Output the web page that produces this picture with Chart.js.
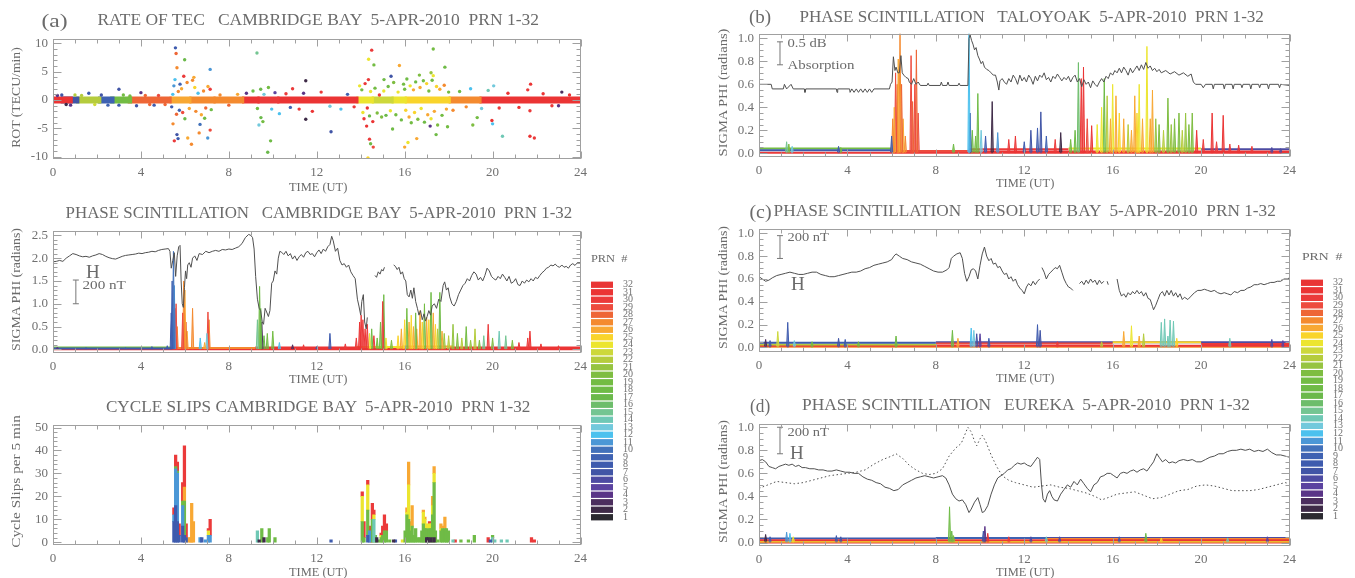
<!DOCTYPE html>
<html>
<head>
<meta charset="utf-8">
<script src="https://cdn.jsdelivr.net/npm/chart.js@4.4.0/dist/chart.umd.min.js"></script>
<style>
  body { margin: 0; background: #fff; width: 1355px; height: 578px; position: relative; overflow: hidden;
         font-family: "Liberation Serif", "DejaVu Serif", serif; color: #6b6b6b; }
  canvas { position: absolute; }
  .lbl { position: absolute; white-space: pre; line-height: 1; transform-origin: 50% 50%; }
</style>
</head>
<body>
<script>
// ---- colour table for PRN 1..32 ----
const prnLabels = ['1','2','3','4','5','6','7','8','9','10','11','12','13','14','15','16',
                   '17','18','19','20','21','22','23','24','25','26','27','28','29','30','31','32'];
const prnColors = ['#2b2a30','#3e2a47','#4c2e5e','#5a3487','#5b43a0','#4d4ba2','#4155a6','#3e5bae',
                   '#3f62b2','#4271ba','#4b97d6','#4cc1ee','#72c9dc','#6fc8b5','#74c592','#6dbd6b',
                   '#6bb94b','#6fbb46','#73bc43','#7ebd41','#96c441','#b5cc3d','#cdd83b','#ece52f',
                   '#f9d42b','#f8a833','#f48a2f','#ee6636','#ed4b3e','#eb3a3a','#eb3434','#e93535'];

// ---- axis ticks ----
const timeTicks = [0, 4, 8, 12, 16, 20, 24];
const rotTicks = [-10, -5, 0, 5, 10];
const sigmaTicksCB = [0, 0.5, 1.0, 1.5, 2.0, 2.5];
const slipTicks = [0, 10, 20, 30, 40, 50];
const sigmaTicks = [0, 0.2, 0.4, 0.6, 0.8, 1.0];

// ---- (a) rate of TEC, Cambridge Bay: [UT, ROT, PRN] ----
const rotPoints = [
  [0.2,0.8,4],[0.4,0.9,7],[0.6,-0.8,2],[0.8,-0.9,4],[1.0,0.9,22],[1.3,0.8,22],[1.63,1.2,8],[1.9,-0.8,23],
  [2.2,0.9,7],[2.5,-0.9,9],[3.0,1.9,7],[3.0,-0.9,8],[3.2,0.9,19],[3.5,0.7,19],[3.8,-1.0,7],
  [4.0,1.3,4],[4.2,0.8,28],[4.4,-0.8,28],[4.6,-0.9,8],[4.8,0.8,29],[5.1,-0.8,28],
  [5.4,-1.2,8],[5.45,1.0,12],[5.46,-4.2,27],[5.5,2.5,11],[5.52,-7.2,30],[5.55,3.6,12],[5.57,9.2,8],
  [5.6,8.2,28],[5.62,-2.5,28],[5.64,5.7,27],[5.64,-6.1,7],[5.69,-6.8,8],[5.7,1.5,27],[5.75,-1.8,9],
  [5.78,2.8,9],[5.85,2.0,26],[5.9,-2.2,29],[5.95,4.2,30],[5.99,7.1,17],[6.0,-3.3,17],[6.1,3.1,27],
  [6.13,-6.7,26],[6.2,-1.5,26],[6.3,-7.8,27],[6.35,3.5,27],[6.41,4.0,26],[6.45,2.2,25],[6.5,-2.0,27],
  [6.6,1.2,12],[6.65,-5.8,27],[6.69,-4.3,10],[6.75,-2.6,26],[6.85,1.6,27],[6.9,-3.2,19],[6.95,-1.4,28],
  [7.04,-6.7,11],[7.05,2.4,26],[7.15,5.4,11],[7.15,1.9,30],[7.15,-5.3,29],[7.2,-1.7,18],
  [7.6,0.9,27],[8.0,-0.9,28],[8.4,1.0,26],
  [8.8,1.2,4],[9.1,1.6,18],[9.28,8.3,15],[9.3,-1.5,19],[9.37,-4.4,13],[9.45,1.9,17],[9.46,-3.1,17],
  [9.55,-3.8,19],[9.6,1.0,13],[9.77,-9.2,17],[9.8,2.2,19],[9.9,-7.2,18],[9.95,-1.6,12],[10.1,1.3,5],
  [10.3,-2.4,12],[10.6,1.1,30],[10.8,-1.3,9],[10.9,2.0,30],[11.2,-1.6,30],[11.4,1.2,4],[11.5,3.4,2],
  [11.5,-3.4,2],[11.8,-2.0,31],[12.2,1.4,30],[12.6,-1.1,13],[12.65,-5.6,7],[13.1,-1.6,12],[13.4,1.0,9],
  [13.7,-1.2,30],[13.95,2.5,24],[14.05,1.8,19],[14.1,-2.2,24],[14.15,-3.3,30],[14.2,2.9,30],
  [14.27,-4.6,31],[14.3,-1.4,31],[14.33,-10.2,25],[14.35,3.6,30],[14.36,7.2,24],[14.4,-2.8,17],
  [14.4,-6.9,30],[14.45,1.5,24],[14.45,-7.7,18],[14.5,8.8,30],[14.55,-3.8,31],[14.57,-8.3,29],
  [14.6,6.2,19],[14.65,2.1,19],[14.75,-2.3,20],[14.85,0.9,30],[14.95,-3.0,20],[15.05,1.6,24],
  [15.06,3.6,18],[15.15,-2.7,17],[15.25,2.4,18],[15.35,-1.9,24],[15.38,4.2,7],[15.45,-5.1,18],
  [15.5,3.1,20],[15.6,-2.6,19],[15.7,1.4,24],[15.76,6.1,26],[15.85,-3.5,18],[15.95,2.8,19],
  [16.0,1.9,19],[16.0,-8.3,26],[16.05,-1.8,25],[16.1,3.7,18],[16.15,-7.5,24],[16.2,-3.0,26],
  [16.25,2.5,24],[16.3,-4.0,19],[16.4,1.8,26],[16.45,-2.2,25],[16.5,3.2,18],[16.55,-6.8,26],
  [16.6,-3.4,20],[16.67,4.4,20],[16.7,2.2,26],[16.75,-1.5,24],[16.85,3.4,19],[16.9,-3.9,18],
  [17.0,2.9,25],[17.05,-2.6,26],[17.1,1.6,19],[17.16,-4.6,4],[17.2,4.8,21],[17.2,-3.3,24],
  [17.25,3.5,18],[17.3,9.0,19],[17.3,4.3,24],[17.35,-2.0,26],[17.43,-6.1,18],[17.45,2.4,25],
  [17.5,-4.4,20],[17.6,1.9,26],[17.7,-2.7,19],[17.8,2.6,27],[17.83,5.8,18],[17.9,-1.6,26],
  [17.95,-4.7,19],[18.0,1.4,19],[18.2,-1.8,27],[18.5,1.5,18],[18.8,-1.2,27],[19.0,2.0,12],
  [19.1,-4.4,20],[19.3,-3.1,19],[19.5,-1.5,13],[19.8,1.7,14],[19.97,-3.6,31],[20.0,-4.2,12],
  [20.05,2.5,13],[20.3,-1.4,30],[20.45,-6.4,14],[20.7,1.2,31],[21.2,-1.3,31],[21.6,1.8,30],
  [21.7,-1.9,30],[21.7,-6.4,31],[21.73,2.8,31],[21.9,-6.7,30],[22.3,1.1,31],[22.7,-1.0,30],
  [23.0,-1.0,4],[23.15,1.4,3],[23.5,0.9,31]
];
// dense band of small ROT values: start UT, end UT, dominant PRN
const rotBandFrom = [0.0, 0.35, 1.05, 2.05, 2.6, 3.4, 5.3, 6.2, 7.3, 8.6, 9.3, 10.2, 13.8, 14.5, 15.4, 16.0, 18.0, 19.4];
const rotBandTo   = [0.9, 1.2, 2.2, 2.8, 3.6, 5.4, 6.3, 7.4, 8.7, 9.4, 10.3, 13.9, 14.6, 15.5, 16.1, 18.1, 19.5, 24.0];
const rotBandPrn  = [31, 7, 22, 9, 19, 28, 26, 27, 27, 31, 30, 31, 24, 23, 24, 25, 27, 31];

// ---- phase scintillation, Cambridge Bay ----
const hCambridge = [
  [0,1.92],[0.15,1.93],[0.3,1.95],[0.45,1.93],[0.6,2.0],[0.75,2.05],[0.9,2.1],[1.05,2.08],[1.2,2.05],
  [1.35,2.03],[1.5,2.04],[1.65,2.02],[1.8,2.05],[1.95,2.07],[2.1,2.1],[2.25,2.08],[2.4,2.04],[2.55,2.01],
  [2.7,1.99],[2.85,1.98],[3.0,2.01],[3.15,2.04],[3.3,2.06],[3.45,2.07],[3.6,2.08],[3.75,2.09],[3.9,2.11],
  [4.05,2.1],[4.2,2.12],[4.35,2.13],[4.5,2.15],[4.65,2.14],[4.8,2.17],[4.95,2.19],[5.1,2.2],[5.25,2.21],
  [5.32,2.15],[5.38,1.78],[5.45,1.95],[5.52,2.12],[5.58,1.6],[5.65,2.05],[5.72,2.25],[5.78,2.28],
  [5.83,1.5],[5.88,1.0],[5.93,0.92],[5.98,1.35],[6.03,1.72],[6.08,1.55],[6.13,1.85],[6.2,1.9],[6.28,1.8],
  [6.35,2.0],[6.45,2.05],[6.55,1.95],[6.65,2.1],[6.8,2.08],[6.95,2.15],[7.1,2.12],[7.25,2.15],[7.4,2.17],
  [7.55,2.15],[7.7,2.19],[7.85,2.18],[8.0,2.2],[8.15,2.19],[8.3,2.22],[8.45,2.25],[8.6,2.32],[8.75,2.45],
  [8.9,2.52],[9.0,2.5],[9.08,2.45],[9.15,2.2],[9.22,1.6],[9.3,1.1],[9.38,0.9],[9.45,0.85],[9.52,0.6],
  [9.58,0.55],[9.65,0.9],[9.72,0.82],[9.8,0.72],[9.87,0.85],[9.95,1.45],[10.02,1.5],[10.1,1.72],
  [10.18,1.65],[10.25,2.0],[10.32,2.15],[10.4,2.13],[10.5,2.08],[10.6,2.15],[10.7,2.05],[10.8,2.1],
  [10.9,1.98],[11.0,2.05],[11.1,1.95],[11.2,2.03],[11.3,2.08],[11.4,2.02],[11.5,2.12],[11.6,2.15],
  [11.7,2.08],[11.8,2.1],[11.9,2.03],[12.0,2.12],[12.1,2.18],[12.2,2.1],[12.3,2.2],[12.4,2.15],[12.5,2.25],
  [12.6,2.3],[12.68,2.48],[12.75,2.38],[12.85,2.15],[12.95,2.22],[13.05,1.95],[13.15,1.85],[13.25,1.88],
  [13.35,1.8],[13.45,1.85],[13.55,1.7],[13.65,1.62],[13.75,1.55],[13.85,1.1],[13.92,0.95],[14.0,0.75],
  [14.05,1.05],[14.12,1.2],[14.18,0.6],[14.25,0.45],[14.3,0.7],[14.35,null],[14.65,1.62],[14.72,1.58],
  [14.8,1.7],[14.88,1.65],[14.95,1.75],[15.02,1.72],[15.08,1.8],[15.12,null],[15.5,1.85],[15.58,1.82],
  [15.66,1.75],[15.74,1.8],[15.82,1.65],[15.9,1.7],[15.98,1.55],[16.05,1.5],[16.12,1.2],[16.2,1.15],
  [16.28,1.3],[16.35,1.12],[16.42,1.35],[16.5,1.05],[16.58,0.9],[16.65,0.75],[16.72,0.85],[16.8,0.65],
  [16.88,0.78],[16.95,0.62],[17.02,0.72],[17.1,0.85],[17.18,0.75],[17.25,0.95],[17.35,1.0],[17.45,0.9],
  [17.55,1.1],[17.65,1.05],[17.75,1.4],[17.82,1.48],[17.9,1.3],[17.98,1.35],[18.05,1.15],[18.15,1.0],
  [18.25,0.95],[18.35,1.05],[18.45,1.2],[18.55,1.3],[18.65,1.4],[18.75,1.45],[18.85,1.55],[18.95,1.5],
  [19.05,1.62],[19.15,1.7],[19.25,1.65],[19.35,1.52],[19.45,1.58],[19.55,1.5],[19.65,1.62],[19.75,1.78],
  [19.85,1.72],[19.95,1.6],[20.05,1.55],[20.15,1.52],[20.25,1.6],[20.35,1.55],[20.45,1.65],[20.55,1.58],
  [20.65,1.5],[20.75,1.6],[20.85,1.45],[20.95,1.48],[21.05,1.55],[21.15,1.42],[21.25,1.4],[21.35,1.5],
  [21.45,1.45],[21.55,1.52],[21.65,1.48],[21.75,1.55],[21.85,1.5],[21.95,1.58],[22.05,1.55],[22.15,1.62],
  [22.25,1.68],[22.35,1.72],[22.45,1.78],[22.55,1.8],[22.65,1.85],[22.75,1.83],[22.85,1.87],[22.95,1.82],
  [23.05,1.8],[23.15,1.85],[23.25,1.8],[23.35,1.82],[23.45,1.78],[23.55,1.85],[23.65,1.88],[23.75,1.84],
  [23.85,1.9],[24.0,1.9]
];
// [UT, sigma phi, PRN]
const spikesCambridge = [
  [0.2,0.05,4],[1.5,0.04,8],[3.3,0.04,9],[4.5,0.06,8],[5.2,0.08,8],[5.38,0.8,8],[5.42,1.5,9],[5.48,2.15,10],
  [5.52,1.4,11],[5.55,0.9,30],[5.6,1.0,29],[5.65,0.5,27],[5.9,0.8,29],[5.95,1.5,27],[6.0,1.3,26],
  [6.05,0.6,28],[6.1,0.4,26],[6.35,0.9,27],[6.7,0.25,12],[6.9,0.15,26],[7.0,0.35,13],[7.05,0.82,29],
  [7.1,0.65,27],[9.3,0.65,15],[9.4,1.38,18],[9.45,0.9,17],[9.5,0.6,3],[9.6,0.3,17],[9.75,0.35,19],
  [10.0,0.4,19],[10.3,0.15,12],[10.9,0.1,3],[11.4,0.1,30],[12.0,0.06,8],[12.6,0.35,8],[13.3,0.12,30],
  [13.8,0.25,30],[13.95,0.6,31],[14.02,0.75,30],[14.1,0.65,30],[14.2,0.45,31],[14.3,0.55,30],
  [14.4,0.35,24],[14.5,0.45,18],[14.6,0.3,30],[14.75,0.25,19],[14.9,0.6,18],[15.0,1.05,30],[15.05,1.2,18],
  [15.15,0.25,24],[15.4,0.2,20],[15.7,0.3,25],[15.85,0.45,26],[16.0,0.65,25],[16.1,0.9,19],[16.2,0.6,26],
  [16.3,0.75,25],[16.4,0.5,26],[16.5,0.8,19],[16.55,0.45,26],[16.7,0.85,26],[16.8,0.6,25],[16.9,1.0,19],
  [17.0,0.7,26],[17.1,0.65,25],[17.2,1.25,18],[17.3,0.8,26],[17.4,0.55,25],[17.5,0.45,22],[17.6,1.25,18],
  [17.7,0.4,26],[17.8,0.35,21],[18.0,0.3,22],[18.2,0.55,21],[18.4,0.35,20],[18.6,0.25,22],[18.8,0.5,19],
  [19.0,0.2,21],[19.2,0.45,22],[19.4,0.2,20],[19.6,0.3,15],[19.8,0.55,30],[20.0,0.25,20],[20.3,0.4,14],
  [20.6,0.3,15],[20.9,0.2,20],[21.2,0.15,30],[21.6,0.25,30],[21.7,0.4,31],[22.2,0.12,31],[23.0,0.08,30]
];
// background noise floor: [from UT, to UT, level, PRN]
const floorCambridge = [[0,5.4,0.02,8],[0,5.4,0.04,19],[5.4,9.2,0.03,27],[9.2,14,0.04,31],[13.8,16,0.05,24],
                        [15.9,18.2,0.06,26],[18,24,0.04,31],[9.2,24,0.015,31],[0,24,0.0,31]];
const scaleBarCambridge = [1.04, 1.0, 1.52];   // UT, bottom, top (200 nT)

// ---- cycle slips per 5 min, Cambridge Bay: [UT, count] per PRN colour group ----
const slipDark   = [[9.38,1],[9.6,2],[14.73,2],[15.5,1],[17.0,2],[17.07,2],[17.2,2],[17.34,2]];
const slipBlue   = [[5.5,9],[5.58,16],[5.66,9],[5.74,3],[5.9,7],[5.98,3],[6.06,2],[6.77,2],[12.65,1],[14.32,3],[15.58,1],[19.9,1]];
const slipSky    = [[5.5,3],[5.58,16],[5.66,21],[5.9,9],[6.69,2],[6.93,1],[7.07,3],[7.15,3],[14.4,5]];
const slipTeal   = [[9.3,5],[14.6,10],[18.2,1],[20.0,2],[20.1,1],[20.4,1],[20.66,1]];
const slipGreen  = [[5.58,1],[5.66,1],[5.9,2],[5.98,15],[9.5,6],[9.77,2],[9.84,6],[10.1,2],[14.07,9],[14.15,2],
                    [14.32,11],[14.53,10],[14.67,3],[14.83,1],[14.93,2],[15.0,3],[15.08,5],[15.17,5],[15.32,1],
                    [16.02,5],[16.1,12],[16.18,10],[16.25,5],[16.34,7],[16.42,3],[16.5,6],[16.6,2],[16.7,2],
                    [16.78,5],[16.85,8],[16.92,6],[17.0,4],[17.07,1],[17.13,6],[17.2,4],[17.27,12],[17.34,24],
                    [17.4,5],[17.5,1],[17.65,5],[17.72,6],[17.83,6],[17.9,6],[17.99,5],[18.56,1],[18.9,1],
                    [19.17,3],[20.0,1]];
const slipYellow = [[7.07,2],[14.07,11],[14.32,11],[14.6,2],[14.93,1],[15.9,1],[16.1,1],[16.18,15],[16.25,2],
                    [16.85,5],[16.92,4],[17.0,2],[17.13,2],[17.2,2],[17.27,4],[17.34,4],[17.65,1]];
const slipOrange = [[5.98,6],[6.15,2],[6.25,2],[6.31,17],[6.39,9],[16.1,2],[16.18,10],[16.25,2],[16.34,9],
                    [16.85,1],[16.92,1],[17.27,4],[17.34,3],[17.65,2],[17.72,1],[17.83,5]];
const slipRed    = [[5.5,3],[5.58,5],[5.66,4],[5.74,5],[5.9,8],[5.98,18],[6.06,6],[7.07,1],[7.15,7],[14.07,2],
                    [14.15,7],[14.32,2],[14.4,2],[14.47,6],[14.53,7],[14.6,2],[14.93,1],[15.0,4],[15.08,7],
                    [15.17,3],[17.13,1],[18.3,1],[19.8,2],[21.77,2],[21.9,1]];

// ---- (b) Taloyoak: riometer absorption and phase scintillation ----
const absTaloyoak = [
  [0,0.6],[0.55,0.6],[0.6,0.56],[1.1,0.56],[1.15,0.6],[1.25,0.56],[1.45,0.6],[1.55,0.56],[2.05,0.56],
  [2.08,0.53],[2.12,0.56],[3.5,0.56],[3.53,0.53],[3.56,0.56],[4.1,0.56],[4.12,0.53],[4.2,0.56],[4.3,0.53],
  [4.4,0.56],[4.5,0.53],[4.6,0.56],[4.7,0.53],[4.8,0.56],[4.9,0.53],[5.0,0.56],[5.1,0.53],[5.2,0.56],
  [5.9,0.56],[5.95,0.6],[6.02,0.62],[6.08,0.84],[6.15,0.72],[6.2,0.75],[6.28,0.7],[6.35,0.7],[6.42,0.85],
  [6.48,0.7],[6.55,0.68],[6.65,0.66],[6.75,0.65],[6.8,0.62],[6.9,0.6],[7.0,0.65],[7.1,0.6],[7.2,0.62],
  [7.3,0.59],[7.6,0.59],[7.65,0.61],[7.7,0.59],[8.2,0.59],[8.25,0.62],[8.3,0.59],[8.5,0.59],[8.55,0.62],
  [8.6,0.59],[9.0,0.59],[9.05,0.61],[9.1,0.59],[9.45,0.59],[9.5,1.0],[9.55,1.03],[9.62,0.98],[9.68,0.95],
  [9.75,0.9],[9.82,0.92],[9.9,0.85],[9.97,0.82],[10.05,0.78],[10.12,0.8],[10.2,0.75],[10.3,0.73],
  [10.4,0.72],[10.5,0.7],[10.6,0.68],[10.7,0.68],[10.78,0.62],[10.85,0.55],[10.9,0.63],[11.0,0.65],
  [11.1,0.62],[11.2,0.6],[11.3,0.65],[11.4,0.62],[11.5,0.68],[11.6,0.65],[11.7,0.6],[11.8,0.68],[11.9,0.63],
  [12.0,0.66],[12.1,0.62],[12.2,0.68],[12.3,0.65],[12.4,0.6],[12.5,0.67],[12.6,0.63],[12.7,0.68],[12.8,0.66],
  [12.9,0.7],[13.0,0.64],[13.1,0.66],[13.2,0.62],[13.3,0.67],[13.4,0.65],[13.5,0.69],[13.6,0.66],[13.7,0.63],
  [13.8,0.66],[13.9,0.64],[14.0,0.67],[14.1,0.62],[14.2,0.66],[14.3,0.68],[14.4,0.62],[14.5,0.65],[14.6,0.58],
  [14.7,0.64],[14.8,0.6],[14.9,0.62],[15.0,0.57],[15.1,0.63],[15.2,0.6],[15.3,0.58],[15.4,0.62],[15.5,0.65],
  [15.6,0.62],[15.7,0.67],[15.8,0.65],[15.9,0.7],[16.0,0.68],[16.1,0.72],[16.2,0.7],[16.3,0.74],[16.4,0.7],
  [16.5,0.75],[16.6,0.72],[16.7,0.68],[16.8,0.74],[16.9,0.7],[17.0,0.73],[17.1,0.76],[17.2,0.72],[17.3,0.77],
  [17.4,0.73],[17.5,0.79],[17.6,0.74],[17.7,0.76],[17.8,0.72],[17.9,0.74],[18.0,0.71],[18.1,0.73],[18.2,0.7],
  [18.4,0.72],[18.6,0.69],[18.8,0.71],[19.0,0.68],[19.2,0.7],[19.4,0.67],[19.55,0.69],[19.65,0.62],
  [19.75,0.6],[20.0,0.6],[20.1,0.57],[20.2,0.6],[20.5,0.6],[20.55,0.56],[20.6,0.6],[21.0,0.6],[21.05,0.56],
  [21.1,0.6],[21.4,0.6],[21.45,0.56],[21.5,0.6],[21.8,0.6],[21.85,0.57],[21.9,0.6],[22.2,0.6],[22.25,0.56],
  [22.3,0.6],[22.6,0.6],[22.65,0.57],[22.7,0.6],[23.0,0.6],[23.05,0.56],[23.1,0.6],[23.5,0.6],[23.55,0.57],
  [23.6,0.6],[24,0.59]
];
const spikesTaloyoak = [
  [1.25,0.1,15],[1.35,0.08,20],[1.5,0.06,13],[3.6,0.06,8],[3.7,0.05,19],[6.0,0.15,8],[6.05,0.3,27],
  [6.12,0.4,26],[6.18,0.7,29],[6.25,0.6,27],[6.3,0.82,26],[6.38,1.05,27],[6.45,0.6,28],[6.52,0.3,26],
  [6.62,0.15,27],[6.88,0.85,29],[6.95,0.45,28],[7.05,0.6,29],[7.12,0.9,28],[7.2,0.35,29],[8.8,0.08,18],
  [9.5,1.05,12],[9.55,0.35,7],[9.65,0.2,18],[9.8,0.15,19],[9.9,0.52,18],[10.05,0.2,13],[10.25,0.15,8],
  [10.55,0.45,2],[10.8,0.18,11],[11.3,0.12,30],[11.6,0.15,31],[12.0,0.1,8],[12.3,0.2,7],[12.6,0.22,8],
  [12.75,0.36,7],[13.0,0.15,9],[13.4,0.12,30],[13.65,0.18,2],[14.1,0.12,19],[14.3,0.2,18],[14.45,0.79,16],
  [14.58,0.65,30],[14.68,0.75,31],[14.85,0.3,29],[15.05,0.24,31],[15.3,0.25,24],[15.5,0.4,24],
  [15.62,0.65,18],[15.75,0.5,22],[15.9,0.3,26],[16.0,0.6,24],[16.15,0.5,26],[16.3,0.35,25],[16.5,0.3,26],
  [16.7,0.25,22],[16.85,0.2,26],[17.0,0.5,26],[17.1,0.35,25],[17.2,0.6,24],[17.35,0.3,26],[17.55,0.93,24],
  [17.7,0.3,26],[17.8,0.55,26],[17.95,0.3,21],[18.1,0.25,20],[18.3,0.2,22],[18.5,0.48,20],[18.65,0.25,21],
  [18.8,0.3,20],[19.0,0.35,20],[19.15,0.2,22],[19.3,0.35,21],[19.45,0.25,20],[19.6,0.35,20],[19.8,0.2,31],
  [20.1,0.12,30],[20.5,0.35,31],[20.7,0.1,30],[21.0,0.33,31],[21.3,0.08,30],[21.7,0.07,31],[22.3,0.06,30],
  [23.2,0.05,6],[23.6,0.04,6]
];
const floorTaloyoak = [[0,6,0.025,8],[0,6,0.04,19],[6,9.5,0.02,29],[9.5,14,0.035,30],[14,20,0.04,24],
                       [9.5,24,0.015,31],[20,24,0.035,6],[0,24,0.005,30]];
const scaleBarTaloyoak = [0.95, 0.77, 0.97];   // 0.5 dB

// ---- (c) Resolute Bay ----
const hResolute = [
  [0,0.62],[0.15,0.6],[0.3,0.58],[0.45,0.59],[0.6,0.61],[0.8,0.63],[1.0,0.64],[1.2,0.65],[1.4,0.66],[1.6,0.65],
  [1.8,0.64],[2.0,0.64],[2.2,0.65],[2.4,0.66],[2.6,0.66],[2.8,0.64],[3.0,0.63],[3.2,0.62],[3.4,0.62],[3.6,0.63],
  [3.8,0.64],[4.0,0.65],[4.2,0.66],[4.4,0.66],[4.6,0.67],[4.8,0.69],[5.0,0.7],[5.2,0.72],[5.4,0.73],[5.6,0.74],
  [5.8,0.75],[6.0,0.77],[6.1,0.8],[6.2,0.82],[6.35,0.8],[6.5,0.78],[6.7,0.77],[6.9,0.75],[7.1,0.74],[7.3,0.73],
  [7.5,0.71],[7.7,0.69],[7.9,0.67],[8.1,0.66],[8.3,0.66],[8.5,0.68],[8.6,0.7],[8.7,0.78],[8.8,0.8],[8.95,0.82],
  [9.1,0.83],[9.2,0.78],[9.3,0.65],[9.4,0.58],[9.5,0.62],[9.6,0.68],[9.7,0.69],[9.8,0.67],[9.9,0.6],[10.0,0.72],
  [10.1,0.82],[10.2,0.88],[10.3,0.8],[10.4,0.76],[10.5,0.78],[10.6,0.73],[10.7,0.74],[10.8,0.7],[10.9,0.71],
  [11.0,0.67],[11.1,0.64],[11.2,0.65],[11.3,0.6],[11.4,0.62],[11.5,0.58],[11.6,0.6],[11.7,0.55],[11.8,0.52],
  [11.9,0.5],[12.0,0.47],[12.1,0.53],[12.2,0.56],[12.3,0.54],[12.4,0.58],[12.5,0.55],[12.6,0.58],[12.7,0.6],
  [12.75,null],[12.8,0.7],[12.9,0.66],[13.0,0.6],[13.1,0.64],[13.2,0.66],[13.3,0.68],[13.4,0.7],[13.5,0.69],
  [13.6,0.72],[13.7,0.66],[13.8,0.6],[13.9,0.56],[14.0,0.53],[14.1,0.52],[14.2,0.5],[14.25,null],[14.5,0.56],
  [14.6,0.58],[14.7,0.55],[14.8,0.59],[14.9,0.56],[15.0,0.6],[15.1,0.57],[15.2,0.59],[15.3,0.55],[15.4,0.59],
  [15.5,0.56],[15.6,0.58],[15.65,null],[15.75,0.58],[15.8,0.55],[15.85,null],[16.2,0.6],[16.3,0.5],[16.4,0.45],
  [16.5,0.47],[16.6,0.44],[16.7,0.48],[16.8,0.46],[16.9,0.49],[17.0,0.47],[17.1,0.5],[17.2,0.47],[17.3,0.49],
  [17.4,0.45],[17.5,0.48],[17.6,0.43],[17.7,0.42],[17.8,0.36],[17.85,0.33],[17.95,0.37],[18.05,0.42],
  [18.15,0.47],[18.25,0.49],[18.35,0.45],[18.45,0.5],[18.55,0.46],[18.65,0.5],[18.75,0.45],[18.85,0.48],
  [18.95,0.44],[19.05,0.47],[19.15,0.42],[19.25,0.44],[19.4,0.42],[19.55,0.45],[19.7,0.48],[19.85,0.5],
  [20.0,0.5],[20.15,0.51],[20.3,0.5],[20.45,0.49],[20.6,0.5],[20.75,0.48],[20.9,0.47],[21.05,0.48],[21.2,0.47],
  [21.35,0.46],[21.5,0.49],[21.65,0.48],[21.8,0.5],[21.95,0.5],[22.1,0.52],[22.25,0.53],[22.4,0.55],
  [22.55,0.55],[22.7,0.56],[22.85,0.55],[23.0,0.56],[23.15,0.57],[23.3,0.57],[23.45,0.58],[23.6,0.58],
  [23.75,0.6],[23.9,0.6],[24.0,0.61]
];
const spikesResolute = [
  [0.3,0.07,3],[0.5,0.06,8],[0.85,0.14,23],[1.3,0.22,8],[1.6,0.06,13],[2.4,0.05,19],[3.6,0.08,7],[3.9,0.07,8],
  [4.5,0.05,19],[6.2,0.1,18],[8.75,0.15,18],[9.0,0.08,26],[9.6,0.17,12],[9.72,0.15,13],[9.85,0.12,7],
  [10.0,0.12,5],[10.4,0.08,8],[12.6,0.2,8],[12.72,0.15,7],[13.5,0.05,30],[15.5,0.05,22],[16.5,0.14,26],
  [16.85,0.19,24],[17.2,0.1,26],[17.4,0.12,22],[18.2,0.22,14],[18.35,0.25,14],[18.5,0.1,14],[18.6,0.24,14],
  [18.75,0.23,14],[18.9,0.08,25],[21.3,0.08,14],[23.2,0.07,6],[23.7,0.06,5]
];
const floorResolute = [[0,8,0.04,8],[0,8,0.025,22],[0,24,0.015,31],[8,16,0.035,29],[16,20,0.045,25],
                       [20,24,0.03,30],[8,24,0.045,6],[0,24,0.005,27]];
const scaleBarResolute = [0.95, 0.78, 0.98];

// ---- (d) Eureka: H (solid), quiet-day H (dotted) ----
const hEureka = [
  [0,0.71],[0.15,0.72],[0.3,0.7],[0.45,0.66],[0.6,0.65],[0.75,0.64],[0.9,0.66],[1.05,0.67],[1.2,0.68],
  [1.35,0.67],[1.5,0.68],[1.65,0.66],[1.8,0.67],[1.95,0.65],[2.1,0.65],[2.3,0.64],[2.5,0.64],[2.7,0.63],
  [2.9,0.63],[3.1,0.62],[3.3,0.62],[3.5,0.63],[3.7,0.62],[3.9,0.61],[4.1,0.61],[4.3,0.6],[4.5,0.6],[4.7,0.57],
  [4.9,0.55],[5.1,0.54],[5.3,0.52],[5.5,0.51],[5.7,0.48],[5.9,0.47],[6.1,0.45],[6.3,0.46],[6.5,0.5],[6.7,0.52],
  [6.9,0.54],[7.1,0.56],[7.3,0.57],[7.5,0.58],[7.7,0.57],[7.9,0.56],[8.1,0.57],[8.3,0.58],[8.45,0.56],[8.6,0.5],
  [8.75,0.42],[8.9,0.38],[9.05,0.36],[9.2,0.37],[9.35,0.33],[9.5,0.26],[9.6,0.29],[9.75,0.35],[9.9,0.39],
  [10.0,0.33],[10.1,0.26],[10.2,0.27],[10.35,0.32],[10.5,0.42],[10.65,0.5],[10.8,0.56],[10.95,0.58],[11.1,0.6],
  [11.25,0.63],[11.4,0.64],[11.55,0.67],[11.7,0.69],[11.85,0.68],[12.0,0.69],[12.15,0.67],[12.3,0.66],
  [12.45,0.7],[12.6,0.74],[12.7,0.72],[12.78,0.5],[12.85,0.38],[12.95,0.35],[13.05,0.42],[13.15,0.45],
  [13.25,0.4],[13.35,0.37],[13.5,0.36],[13.65,0.42],[13.8,0.46],[13.95,0.5],[14.1,0.48],[14.25,0.53],[14.4,0.5],
  [14.55,0.55],[14.7,0.51],[14.85,0.47],[15.0,0.44],[15.15,0.5],[15.3,0.52],[15.45,0.57],[15.6,0.58],
  [15.75,0.6],[15.9,0.6],[16.05,0.58],[16.2,0.56],[16.35,0.6],[16.5,0.61],[16.65,0.6],[16.8,0.62],[16.95,0.63],
  [17.1,0.61],[17.25,0.63],[17.4,0.64],[17.55,0.62],[17.7,0.66],[17.85,0.7],[18.0,0.77],[18.1,0.74],
  [18.25,0.7],[18.4,0.72],[18.55,0.69],[18.7,0.7],[18.85,0.69],[19.0,0.71],[19.2,0.72],[19.4,0.71],[19.6,0.72],
  [19.8,0.7],[20.0,0.7],[20.2,0.72],[20.4,0.74],[20.6,0.75],[20.8,0.77],[21.0,0.77],[21.2,0.79],[21.4,0.8],
  [21.6,0.8],[21.8,0.81],[22.0,0.8],[22.2,0.81],[22.4,0.79],[22.6,0.8],[22.8,0.79],[23.0,0.81],[23.2,0.78],
  [23.4,0.76],[23.6,0.76],[23.8,0.75],[24.0,0.74]
];
const hEurekaQuiet = [
  [0,0.47],[0.4,0.5],[0.8,0.53],[1.2,0.52],[1.6,0.51],[2.0,0.52],[2.4,0.54],[2.8,0.56],[3.2,0.58],[3.6,0.59],
  [4.0,0.6],[4.4,0.61],[4.8,0.63],[5.2,0.68],[5.6,0.72],[6.0,0.75],[6.2,0.77],[6.5,0.73],[6.8,0.67],[7.1,0.63],
  [7.4,0.6],[7.7,0.59],[8.0,0.6],[8.3,0.64],[8.6,0.75],[8.9,0.82],[9.15,0.86],[9.3,0.93],[9.45,1.0],[9.6,0.96],
  [9.75,0.88],[9.85,0.84],[10.0,0.9],[10.1,0.93],[10.25,0.88],[10.5,0.76],[10.75,0.66],[11.0,0.58],[11.3,0.54],
  [11.6,0.52],[12.0,0.5],[12.4,0.48],[12.8,0.49],[13.2,0.5],[13.6,0.48],[14.0,0.47],[14.4,0.45],[14.8,0.43],
  [15.2,0.4],[15.5,0.37],[15.8,0.39],[16.2,0.42],[16.6,0.43],[17.0,0.44],[17.4,0.41],[17.8,0.38],[18.2,0.39],
  [18.6,0.42],[19.0,0.45],[19.4,0.46],[19.8,0.49],[20.2,0.5],[20.6,0.49],[21.0,0.47],[21.4,0.45],[21.8,0.45],
  [22.2,0.45],[22.6,0.46],[23.0,0.48],[23.4,0.5],[23.8,0.52],[24.0,0.51]
];
const spikesEureka = [
  [0.3,0.07,2],[0.5,0.05,8],[1.25,0.09,11],[1.4,0.08,12],[1.55,0.05,24],[3.5,0.06,8],[3.7,0.05,7],
  [8.62,0.31,18],[8.72,0.1,17],[8.8,0.06,20],[10.15,0.1,7],[10.22,0.14,4],[10.35,0.08,31],[11.3,0.05,30],
  [12.3,0.05,6],[13.0,0.05,14],[13.6,0.05,6],[16.3,0.05,8],[17.5,0.08,17],[18.2,0.04,25],[21.2,0.04,14],
  [23.0,0.05,5]
];
const floorEureka = [[0,24,0.02,31],[0,8,0.035,8],[0,24,0.01,24],[8,13,0.04,9],[13,24,0.03,27],[15,20,0.015,23],
                     [8,24,0.04,6],[0,24,0.0,30]];
const scaleBarEureka = [0.95, 0.77, 1.0];

// ---------------------------------------------------------------
const textGray = '#707070';
const axisGray = '#a0a0a0';
const traceGray = '#505050';

Chart.defaults.font.family = '"Liberation Serif", "DejaVu Serif", serif';
Chart.defaults.color = textGray;
Chart.defaults.elements.point.radius = 0;
Chart.defaults.elements.line.borderWidth = 1;

// box around the plot with IDL-style inward ticks on all four sides
const frame = {
  id: 'frame',
  afterDraw(chart, args, o) {
    const { ctx, chartArea: a, scales: { x, y } } = chart;
    ctx.save();
    ctx.strokeStyle = axisGray;
    ctx.lineWidth = 1;
    const L = Math.round(a.left) + 0.5, R = Math.round(a.right) - 0.5;
    const T = Math.round(a.top) + 0.5, B = Math.round(a.bottom) - 0.5;
    ctx.strokeRect(L, T, R - L, B - T);
    ctx.beginPath();
    for (let i = 0; i <= 24; i++) {
      const px = Math.round(x.getPixelForValue(i)) + 0.5;
      const len = i % 4 === 0 ? 7 : 4;
      ctx.moveTo(px, B); ctx.lineTo(px, B - len);
      ctx.moveTo(px, T); ctx.lineTo(px, T + len);
    }
    const i0 = Math.ceil(y.min / o.yMinor - 1e-6), i1 = Math.floor(y.max / o.yMinor + 1e-6);
    for (let i = i0; i <= i1; i++) {
      const py = Math.round(y.getPixelForValue(i * o.yMinor)) + 0.5;
      const len = i % o.yEvery === 0 ? 8 : 4;
      ctx.moveTo(L, py); ctx.lineTo(L + len, py);
      ctx.moveTo(R, py); ctx.lineTo(R - len, py);
    }
    ctx.stroke();
    ctx.restore();
  }
};

function addCanvas(left, top, w, h) {
  const cv = document.createElement('canvas');
  cv.width = w; cv.height = h;
  cv.style.left = left + 'px'; cv.style.top = top + 'px';
  cv.style.width = w + 'px'; cv.style.height = h + 'px';
  document.body.appendChild(cv);
  return cv;
}

// box = plot area in page pixels
function makePanel(box, yMin, yMax, yTicks, yMinor, yEvery, fmt, datasets, type) {
  const cv = addCanvas(box.x - 60, box.y - 6, box.w + 70, box.h + 31);
  return new Chart(cv, {
    type: type || 'line',
    data: { datasets },
    options: {
      responsive: false, animation: false, events: [],
      layout: { padding: { top: 6, right: 10, left: 0, bottom: 0 } },
      plugins: { legend: { display: false }, tooltip: { enabled: false }, frame: { yMinor, yEvery } },
      scales: {
        x: {
          type: 'linear', min: 0, max: 24, offset: false, stacked: type === 'bar',
          grid: { display: false, drawTicks: false }, border: { display: false },
          afterBuildTicks: s => { s.ticks = timeTicks.map(v => ({ value: v })); },
          afterFit: s => { s.height = 25; },
          ticks: { color: textGray, font: { size: 13 }, padding: 6, maxRotation: 0 }
        },
        y: {
          type: 'linear', min: yMin, max: yMax, stacked: type === 'bar',
          grid: { display: false, drawTicks: false }, border: { display: false },
          afterBuildTicks: s => { s.ticks = yTicks.map(v => ({ value: v })); },
          afterFit: s => { s.width = 60; },
          ticks: { color: textGray, font: { size: 13 }, padding: 5, callback: fmt }
        }
      }
    },
    plugins: [frame]
  });
}

const pts = arr => arr.map(p => ({ x: p[0], y: p[1] }));

function spikeSets(list) {
  return list.map(([t, h, prn]) => ({
    data: [{ x: t - 0.05, y: 0.01 }, { x: t, y: h }, { x: t + 0.05, y: 0.01 }],
    borderColor: prnColors[prn - 1], backgroundColor: prnColors[prn - 1] + 'aa',
    borderWidth: 1, fill: 'origin'
  }));
}
function floorSets(list) {
  return list.map(([a, b, lev, prn]) => ({
    data: [{ x: a, y: lev }, { x: b, y: lev }],
    borderColor: prnColors[prn - 1], borderWidth: 2
  }));
}
function scaleBar(bar) {
  return {
    data: [{ x: bar[0], y: bar[1] }, { x: bar[0], y: bar[2] }],
    borderColor: '#777', borderWidth: 1,
    pointStyle: 'line', pointRadius: 3, pointBorderColor: '#777', pointBorderWidth: 1
  };
}
const trace = (arr, dash) => ({
  data: pts(arr), borderColor: traceGray, borderWidth: 1, spanGaps: false, borderDash: dash || []
});

// (a) rate of TEC
makePanel({ x: 53, y: 32, w: 530, h: 127 }, -10.4, 10.8, rotTicks, 1, 5, v => String(v), [
  {
    data: pts(rotPoints), showLine: false, pointRadius: 1.7, pointBorderWidth: 0,
    pointBackgroundColor: rotPoints.map(p => prnColors[p[2] - 1])
  },
  ...rotBandFrom.map((a, i) => ({
    data: [{ x: a, y: 0 }, { x: rotBandTo[i], y: 0 }],
    borderColor: prnColors[rotBandPrn[i] - 1], borderWidth: 7, borderCapStyle: 'butt'
  }))
]);

// phase scintillation, Cambridge Bay
makePanel({ x: 53, y: 224, w: 530, h: 129 }, -0.08, 2.6, sigmaTicksCB, 0.1, 5, v => v.toFixed(1), [
  trace(hCambridge), scaleBar(scaleBarCambridge),
  ...spikeSets(spikesCambridge), ...floorSets(floorCambridge)
]);

// cycle slips, stacked by PRN colour group (dataset 0 at the bottom of each stack)
const slipGroups = [[slipDark, 2], [slipBlue, 8], [slipSky, 11], [slipTeal, 14],
                    [slipGreen, 18], [slipYellow, 24], [slipOrange, 26], [slipRed, 30]];
makePanel({ x: 53, y: 418, w: 530, h: 127 }, -1.2, 51.2, slipTicks, 2, 5, v => String(v),
  slipGroups.map(([arr, prn]) => ({
    data: pts(arr), backgroundColor: prnColors[prn - 1], barThickness: 2.6, borderWidth: 0
  })), 'bar');

// (b) Taloyoak
makePanel({ x: 759, y: 27, w: 533, h: 130 }, -0.033, 1.04, sigmaTicks, 0.05, 4, v => v.toFixed(1), [
  trace(absTaloyoak), scaleBar(scaleBarTaloyoak),
  ...spikeSets(spikesTaloyoak), ...floorSets(floorTaloyoak)
]);

// (c) Resolute Bay
makePanel({ x: 759, y: 222, w: 533, h: 130 }, -0.04, 1.04, sigmaTicks, 0.05, 4, v => v.toFixed(1), [
  trace(hResolute), scaleBar(scaleBarResolute),
  ...spikeSets(spikesResolute), ...floorSets(floorResolute)
]);

// (d) Eureka
makePanel({ x: 759, y: 417, w: 533, h: 129 }, -0.03, 1.03, sigmaTicks, 0.05, 4, v => v.toFixed(1), [
  trace(hEureka), trace(hEurekaQuiet, [1.5, 2.5]), scaleBar(scaleBarEureka),
  ...spikeSets(spikesEureka), ...floorSets(floorEureka)
]);

// PRN colour bars
function colorBar(x, y, w, h) {
  const cv = addCanvas(x, y, w + 32, h);
  new Chart(cv, {
    type: 'bar',
    data: { labels: prnLabels, datasets: [{ data: prnLabels.map(() => 1), backgroundColor: prnColors,
            barPercentage: 0.84, categoryPercentage: 1 }] },
    options: {
      indexAxis: 'y', responsive: false, animation: false, events: [],
      layout: { padding: 0 },
      plugins: { legend: { display: false }, tooltip: { enabled: false } },
      scales: {
        x: { display: false, min: 0, max: 1 },
        y: { position: 'right', reverse: true, grid: { display: false, drawTicks: false }, border: { display: false },
             afterFit: s => { s.width = 32; },
             ticks: { color: textGray, font: { size: 10 }, padding: 10, autoSkip: false } }
      }
    }
  });
}
colorBar(591, 265, 22, 272);
colorBar(1301, 263, 22, 273);

// ---- text ----
function label(text, cx, cy, size, width, rot) {
  const el = document.createElement('div');
  el.className = 'lbl';
  el.textContent = text;
  el.style.fontSize = size + 'px';
  document.body.appendChild(el);
  const w = el.offsetWidth, h = el.offsetHeight;
  const sx = width ? width / w : 1;
  el.style.left = (cx - w / 2) + 'px';
  el.style.top = (cy - h / 2) + 'px';
  el.style.transform = (rot ? 'rotate(-90deg) ' : '') + 'scaleX(' + sx.toFixed(3) + ')';
}

label('(a)', 54, 20, 19, 26);
label('RATE OF TEC   CAMBRIDGE BAY  5-APR-2010  PRN 1-32', 317.5, 20, 16, 441);
label('PHASE SCINTILLATION   CAMBRIDGE BAY  5-APR-2010  PRN 1-32', 318.5, 213, 16, 507);
label('CYCLE SLIPS CAMBRIDGE BAY  5-APR-2010  PRN 1-32', 318, 407, 16, 424);
label('(b)', 760, 16, 19, 22);
label('PHASE SCINTILLATION   TALOYOAK  5-APR-2010  PRN 1-32', 1031, 17, 16, 464);
label('(c)', 760, 211, 19, 22);
label('PHASE SCINTILLATION   RESOLUTE BAY  5-APR-2010  PRN 1-32', 1024.5, 211, 16, 503);
label('(d)', 759.5, 405, 19, 20);
label('PHASE SCINTILLATION   EUREKA  5-APR-2010  PRN 1-32', 1026, 405, 16, 448);

label('TIME (UT)', 318, 187, 12, 58);
label('TIME (UT)', 318, 379, 12, 58);
label('TIME (UT)', 318, 572, 12, 58);
label('TIME (UT)', 1025, 183, 12, 58);
label('TIME (UT)', 1025, 378, 12, 58);
label('TIME (UT)', 1025, 572, 12, 58);

label('ROT (TECU/min)', 15, 97, 13, 100, true);
label('SIGMA PHI (radians)', 15, 289, 13, 123, true);
label('Cycle Slips per 5 min', 15, 481, 13, 133, true);
label('SIGMA PHI (radians)', 722, 92, 13, 128, true);
label('SIGMA PHI (radians)', 722, 287, 13, 123, true);
label('SIGMA PHI (radians)', 722, 481, 13, 123, true);

label('H', 93, 271, 19);
label('200 nT', 103.5, 285, 12, 43);
label('0.5 dB', 806.5, 43, 12, 39);
label('Absorption', 820.5, 65, 12, 67);
label('200 nT', 807.5, 237, 12, 41);
label('H', 798, 283, 19);
label('200 nT', 807.5, 432, 12, 41);
label('H', 797, 452, 19);

label('PRN  #', 609, 258, 11, 36);
label('PRN  #', 1322, 256, 11, 40);
</script>
</body>
</html>
